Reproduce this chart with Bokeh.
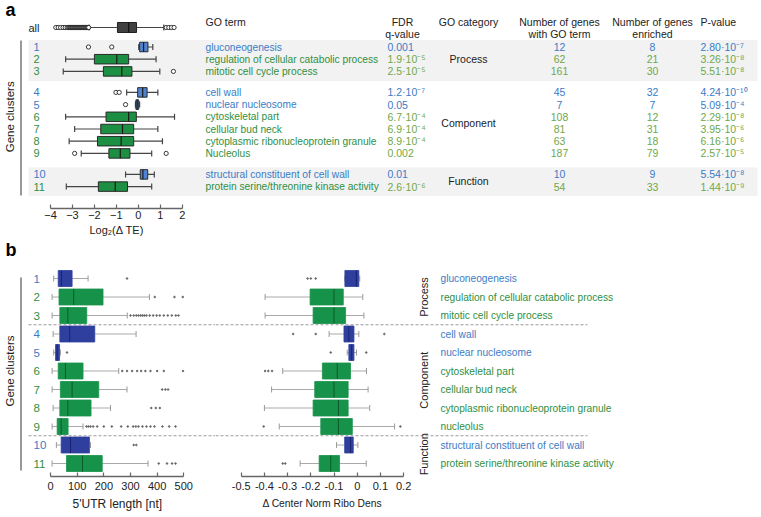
import math
from bokeh.plotting import figure
from bokeh.models import ColumnDataSource, Range1d, LinearAxis, FixedTicker, Title
from bokeh.layouts import column, row
from bokeh.core.properties import value
from bokeh.embed import file_html
from bokeh.resources import INLINE

FONT = "Liberation Sans"

# ---------------- data ----------------
clusters = [str(i) for i in range(1, 12)]
direction = ["up", "down", "down", "up", "up", "down", "down", "down", "down", "up", "down"]
categories = ["Process"] * 3 + ["Component"] * 6 + ["Function"] * 2
cat_order = ["Process", "Component", "Function"]
go_terms = ["gluconeogenesis", "regulation of cellular catabolic process", "mitotic cell cycle process",
            "cell wall", "nuclear nucleosome", "cytoskeletal part", "cellular bud neck",
            "cytoplasmic ribonucleoprotein granule", "Nucleolus",
            "structural constituent of cell wall", "protein serine/threonine kinase activity"]
go_terms_b = ["gluconeogenesis", "regulation of cellular catabolic process", "mitotic cell cycle process",
              "cell wall", "nuclear nucleosome", "cytoskeletal part", "cellular bud neck",
              "cytoplasmic ribonucleoprotein granule", "nucleolus",
              "structural constituent of cell wall", "protein serine/threonine kinase activity"]
fdr = ["0.001", "1.9·10⁻⁵", "2.5·10⁻⁵", "1.2·10⁻⁷", "0.05", "6.7·10⁻⁴", "6.9·10⁻⁴",
       "8.9·10⁻⁴", "0.002", "0.01", "2.6·10⁻⁶"]
n_go = [12, 62, 161, 45, 7, 108, 81, 63, 187, 10, 54]
n_enriched = [8, 21, 30, 32, 7, 12, 31, 18, 79, 9, 33]
pvalue = ["2.80·10⁻⁷", "3.26·10⁻⁸", "5.51·10⁻⁸", "4.24·10⁻¹⁰", "5.09·10⁻⁴", "2.29·10⁻⁸",
          "3.95·10⁻⁶", "6.16·10⁻⁶", "2.57·10⁻⁵", "5.54·10⁻⁸", "1.44·10⁻⁹"]
headers_top = ["GO term", "FDR", "GO category", "Number of genes", "Number of genes", "P-value"]
headers_bottom = ["", "q-value", "", "with GO term", "enriched", ""]

# panel a: log2(dTE) box statistics per cluster
te_low = [0.02, -3.31, -3.42, -0.53, -0.13, -3.31, -2.90, -3.15, -2.60, -0.58, -3.28]
te_q1 = [0.06, -2.00, -1.59, -0.03, -0.11, -1.47, -1.71, -1.86, -1.34, 0.09, -1.82]
te_med = [0.24, -0.98, -0.75, 0.20, -0.05, -0.44, -0.72, -0.78, -0.82, 0.21, -1.05]
te_q3 = [0.44, -0.44, -0.29, 0.40, 0.02, -0.09, -0.21, -0.21, -0.38, 0.43, -0.49]
te_high = [0.66, 0.81, 0.98, 0.89, 0.06, 1.65, 0.89, 1.10, 0.61, 0.73, 0.61]
te_out_cluster = [1, 1, 3, 4, 4, 5, 9, 9]
te_out_value = [-2.27, -1.21, 1.60, -1.02, -0.87, -0.58, -2.90, 1.27]
all_stats = [-2.24, -0.95, -0.44, -0.08, 1.16]
all_out = [-3.76, -3.65, -3.54, -3.43, -3.33, -3.24, -3.18, -3.14, -3.10, -3.07, -3.04, -3.01,
           -2.98, -2.95, -2.92, -2.89, -2.86, -2.83, -2.80, -2.77, -2.74, -2.71, -2.68, -2.65,
           -2.62, -2.59, -2.56, -2.53, -2.50, -2.47, -2.44, -2.41, -2.38, -2.35, -2.32, -2.29,
           -2.26, 1.27, 1.39, 1.51, 1.63]

# panel b: 5'UTR length box statistics
utr_low = [12, 6, 6, 10, 12, 6, 6, 10, 6, 22, 6]
utr_q1 = [29, 32, 35, 35, 19, 29, 37, 35, 25, 40, 60]
utr_med = [41, 87, 65, 72, 25, 56, 81, 65, 40, 75, 120]
utr_q3 = [81, 197, 136, 166, 34, 122, 181, 152, 66, 146, 194]
utr_high = [141, 371, 288, 321, 37, 256, 287, 225, 122, 150, 366]
utr_out_cluster = ([1] + [2] * 3 + [3] * 17 + [5] + [6] * 10 + [7] * 3 + [8] * 3 + [9] * 19 + [10] * 2 + [11] * 4)
utr_out_value = ([287] + [391, 465, 496] +
                 [300, 312, 322, 330, 338, 345, 352, 360, 372, 385, 398, 410, 425, 440, 455, 470, 480] +
                 [62] + [269, 287, 306, 325, 340, 356, 375, 400, 425, 497] + [419, 431, 441] +
                 [378, 395, 410] +
                 [135, 142, 150, 160, 175, 200, 230, 265, 290, 310, 320, 330, 345, 360, 375, 390, 420, 445, 469] +
                 [312, 322] + [406, 437, 456, 469])

# panel b: delta center normalised ribosome density
rb_low = [-0.053, -0.397, -0.397, -0.121, -0.043, -0.321, -0.369, -0.400, -0.336, -0.089, -0.246]
rb_q1 = [-0.053, -0.203, -0.190, -0.057, -0.036, -0.150, -0.183, -0.190, -0.157, -0.054, -0.164]
rb_med = [-0.004, -0.100, -0.100, -0.036, -0.024, -0.086, -0.100, -0.081, -0.081, -0.029, -0.114]
rb_q3 = [0.007, -0.060, -0.050, -0.014, -0.014, -0.029, -0.039, -0.039, -0.021, -0.017, -0.076]
rb_high = [0.011, 0.024, 0.029, 0.007, -0.003, 0.040, 0.047, 0.054, 0.161, 0.003, 0.039]
rb_out_cluster = [1, 1, 1, 4, 4, 4, 5, 5, 6, 6, 6, 9, 9, 11, 11]
rb_out_value = [-0.214, -0.200, -0.179, -0.276, -0.179, 0.117, -0.114, 0.039,
                -0.397, -0.383, -0.367, -0.403, 0.186, -0.321, -0.310]

te_ticks = [-4, -3, -2, -1, 0, 1, 2]
utr_ticks = [0, 100, 200, 300, 400, 500]
rb_ticks = [-0.5, -0.4, -0.3, -0.2, -0.1, 0.0, 0.1, 0.2]
rb_tick_labels = ["-0.5", "-0.4", "-0.3", "-0.2", "-0.1", "0", "0.1", "0.2"]
te_axis_label = "Log₂(Δ TE)"
utr_axis_label = "5'UTR length [nt]"
rb_axis_label = "Δ Center Norm Ribo Dens"

# ---------------- styling ----------------
BLUE_TXT = "#3a7cc6"
GREEN_TXT = "#2f8f3f"
GREEN_LIGHT = "#6fa84a"
A_BLUE = "#4f84d2"
A_GREEN = "#1d8f42"
B_BLUE = "#2f3f9e"
B_GREEN = "#17924a"

is_up = [d == "up" for d in direction]
txt_col = [BLUE_TXT if u else GREEN_TXT for u in is_up]
txt_col_light = [BLUE_TXT if u else GREEN_LIGHT for u in is_up]
grp = [cat_order.index(c) for c in categories]
idx = list(range(len(clusters)))

# row layout (window pixel coordinates)
ya = [46.5 + 12.2 * i + 8.8 * g for i, g in zip(idx, grp)]
yb = [278 + 18.5 * i for i in idx]


def bare(p):
    p.outline_line_color = None
    p.grid.grid_line_color = None
    p.background_fill_color = "white"
    p.border_fill_color = "white"
    p.min_border_left = 0
    p.min_border_right = 0
    p.min_border_top = 0


def txt(p, x, y, t, color="#222222", size="10px", align="left", style="normal", angle=0.0,
        baseline="middle", xr="px"):
    n = len(t)
    if len(x) == 1:
        x = x * n
    if len(y) == 1:
        y = y * n
    src = ColumnDataSource(dict(x=x, y=y, t=t, c=color if isinstance(color, list) else [color] * n))
    p.text(x="x", y="y", text="t", source=src, text_color="c", text_font=value(FONT),
           text_font_size=value(size), text_align=align, text_baseline=baseline,
           text_font_style=style, angle=angle, x_range_name=xr)


def axis_title(p, left_offset, t, size="11px", standoff=2):
    p.add_layout(Title(text=t, align="left", offset=left_offset, standoff=standoff,
                       text_font=FONT, text_font_size=size, text_font_style="normal",
                       text_color="#222222"), "below")


def style_axis(ax):
    ax.axis_line_color = "#666666"
    ax.axis_line_width = 1.5
    ax.major_tick_line_color = "#666666"
    ax.major_tick_line_width = 1.2
    ax.major_tick_in = 4
    ax.major_tick_out = 0
    ax.minor_tick_line_color = None
    ax.major_label_text_font = FONT
    ax.major_label_text_font_size = "11px"
    ax.major_label_text_color = "#222222"


# ================= panel a =================
W, HA, HB = 760, 240, 276
WIN_L, WIN_R = 0, W
A_TOP, A_BOTTOM = 0, 208
a_px0, a_px1 = 50.0, 181.7           # window x of -4 and 2
a_scale = (a_px1 - a_px0) / 6.0
a_x0 = -4 + (WIN_L - a_px0) / a_scale
a_x1 = -4 + (WIN_R - a_px0) / a_scale

pa = figure(width=W, height=HA, output_backend="svg", toolbar_location=None,
            x_range=Range1d(a_x0, a_x1), y_range=Range1d(A_BOTTOM, A_TOP),
            x_axis_location=None, y_axis_location=None)
bare(pa)
pa.min_border_bottom = HA - (A_BOTTOM - A_TOP)
pa.extra_x_ranges = {"px": Range1d(WIN_L, WIN_R)}

# grey bands for groups 1 and 3
band_src = ColumnDataSource(dict(
    top=[min(y for y, g in zip(ya, grp) if g == k) - 7 for k in (0, 2)],
    bottom=[max(y for y, g in zip(ya, grp) if g == k) + 9.5 for k in (0, 2)]))
pa.quad(left=28, right=757, top="top", bottom="bottom", source=band_src,
        fill_color="#f2f2f2", line_color=None, x_range_name="px")

box_a_fill = [A_BLUE if u else A_GREEN for u in is_up]
sa = ColumnDataSource(dict(y=ya, lo=te_low, q1=te_q1, md=te_med, q3=te_q3, hi=te_high,
                           ylo=[y - 3 for y in ya], yhi=[y + 3 for y in ya],
                           mlo=[y - 4.75 for y in ya], mhi=[y + 4.75 for y in ya], fill=box_a_fill))
pa.segment(x0="lo", y0="y", x1="q1", y1="y", source=sa, line_color="#444444", line_width=1.2)
pa.segment(x0="q3", y0="y", x1="hi", y1="y", source=sa, line_color="#444444", line_width=1.2)
pa.segment(x0="lo", y0="ylo", x1="lo", y1="yhi", source=sa, line_color="#444444", line_width=1.2)
pa.segment(x0="hi", y0="ylo", x1="hi", y1="yhi", source=sa, line_color="#444444", line_width=1.2)
pa.hbar(y="y", left="q1", right="q3", height=9.5, source=sa, fill_color="fill",
        line_color="#2a2a2a", line_width=1)
pa.segment(x0="md", y0="mlo", x1="md", y1="mhi", source=sa, line_color="#1a1a1a", line_width=1.2)

# "all" row
Y_ALL = 27
lo, q1, md, q3, hi = all_stats
pa.segment(x0=[lo, q3], y0=[Y_ALL, Y_ALL], x1=[q1, hi], y1=[Y_ALL, Y_ALL], line_color="#444444", line_width=1.2)
pa.segment(x0=[lo, hi], y0=[Y_ALL - 3] * 2, x1=[lo, hi], y1=[Y_ALL + 3] * 2, line_color="#444444", line_width=1.2)
pa.hbar(y=[Y_ALL], left=[q1], right=[q3], height=10, fill_color="#404040", line_color="#222222")
pa.segment(x0=[md], y0=[Y_ALL - 5], x1=[md], y1=[Y_ALL + 5], line_color="#111111", line_width=1.2)
pa.scatter(x=all_out, y=[Y_ALL] * len(all_out), marker="circle", size=4.2,
           fill_color="white", line_color="#222222", line_width=0.9)
pa.scatter(x=te_out_value, y=[ya[c - 1] for c in te_out_cluster], marker="circle", size=4.2,
           fill_color="white", line_color="#222222", line_width=0.9)

ax_a = LinearAxis(ticker=FixedTicker(ticks=te_ticks), bounds=(te_ticks[0], te_ticks[-1]))
style_axis(ax_a)
ax_a.major_label_standoff = 2
pa.add_layout(ax_a, "below")
axis_title(pa, 89, te_axis_label, "11px", 1)

# left decorations
txt(pa, [5], [9], ["a"], color="#000000", size="18px", style="bold")
txt(pa, [28], [Y_ALL], ["all"], color="#222222", size="11px")
txt(pa, [33], ya, clusters, color=txt_col, size="11px")
pa.segment(x0=[20.5], y0=[ya[0] - 6.5], x1=[20.5], y1=[ya[-1] + 9], line_color="#777777",
           line_width=1.5, x_range_name="px")
txt(pa, [9], [(ya[0] + ya[-1]) / 2], ["Gene clusters"], size="11.5px", align="center", angle=math.pi / 2)

# table
col_x = [205, 402, 468, 559, 652, 700]
col_align = ["left", "center", "center", "center", "center", "left"]
for x, a, t1, t2 in zip(col_x, col_align, headers_top, headers_bottom):
    txt(pa, [x], [21], [t1], size="10.5px", align=a)
    if t2:
        txt(pa, [x], [33], [t2], size="10.5px", align=a)
txt(pa, [205], ya, go_terms, color=txt_col, size="10.2px")
txt(pa, [387], ya, fdr, color=txt_col_light, size="10.5px")
txt(pa, [559], ya, [str(v) for v in n_go], color=txt_col_light, size="10.5px", align="center")
txt(pa, [652], ya, [str(v) for v in n_enriched], color=txt_col_light, size="10.5px", align="center")
txt(pa, [700], ya, pvalue, color=txt_col_light, size="10.5px")
cat_y = [sum(y for y, c in zip(ya, categories) if c == k) / categories.count(k) for k in cat_order]
txt(pa, [468], cat_y, cat_order, size="10.5px", align="center")

# ================= panel b =================
B_TOP, B_BOTTOM = HA, 476
SPLIT = 215
b1_px0, b1_px1 = 50.0, 183.3        # window x of 0 and 500
b1_scale = (b1_px1 - b1_px0) / 500.0
b2_px0, b2_px1 = 240.7, 403.1       # window x of -0.5 and 0.2
b2_scale = (b2_px1 - b2_px0) / 0.7

pb1 = figure(width=SPLIT - WIN_L, height=HB, output_backend="svg", toolbar_location=None,
             x_range=Range1d((WIN_L - b1_px0) / b1_scale, (SPLIT - b1_px0) / b1_scale),
             y_range=Range1d(B_BOTTOM, B_TOP), x_axis_location=None, y_axis_location=None)
pb2 = figure(width=WIN_R - SPLIT, height=HB, output_backend="svg", toolbar_location=None,
             x_range=Range1d(-0.5 + (SPLIT - b2_px0) / b2_scale, -0.5 + (WIN_R - b2_px0) / b2_scale),
             y_range=Range1d(B_BOTTOM, B_TOP), x_axis_location=None, y_axis_location=None)
for p, x0, x1 in ((pb1, WIN_L, SPLIT), (pb2, SPLIT, WIN_R)):
    bare(p)
    p.min_border_bottom = HB - (B_BOTTOM - B_TOP)
    p.extra_x_ranges = {"px": Range1d(x0, x1)}

# dashed separators between GO categories
sep_y = [(yb[i] + yb[i + 1]) / 2 for i in idx[:-1] if grp[i] != grp[i + 1]]
pb1.segment(x0=[28] * len(sep_y), y0=sep_y, x1=[SPLIT] * len(sep_y), y1=sep_y, line_color="#9a9a9a",
            line_width=1.2, line_dash="3 2", x_range_name="px")
pb2.segment(x0=[SPLIT] * len(sep_y), y0=sep_y, x1=[587] * len(sep_y), y1=sep_y, line_color="#9a9a9a",
            line_width=1.2, line_dash="3 2", x_range_name="px")

box_b_fill = [B_BLUE if u else B_GREEN for u in is_up]
med_b = ["#1b2470" if u else "#0b5a2a" for u in is_up]


def boxes_b(p, lo, q1, md, q3, hi, oc, ov):
    s = ColumnDataSource(dict(y=yb, lo=lo, q1=q1, md=md, q3=q3, hi=hi,
                              ylo=[y - 3 for y in yb], yhi=[y + 3 for y in yb],
                              mlo=[y - 8 for y in yb], mhi=[y + 8 for y in yb],
                              fill=box_b_fill, med=med_b))
    p.segment(x0="lo", y0="y", x1="q1", y1="y", source=s, line_color="#aaaaaa", line_width=1)
    p.segment(x0="q3", y0="y", x1="hi", y1="y", source=s, line_color="#aaaaaa", line_width=1)
    p.segment(x0="lo", y0="ylo", x1="lo", y1="yhi", source=s, line_color="#999999", line_width=1)
    p.segment(x0="hi", y0="ylo", x1="hi", y1="yhi", source=s, line_color="#999999", line_width=1)
    p.hbar(y="y", left="q1", right="q3", height=16, source=s, fill_color="fill", line_color="fill",
           line_width=0.8)
    p.segment(x0="md", y0="mlo", x1="md", y1="mhi", source=s, line_color="med", line_width=1)
    p.scatter(x=ov, y=[yb[c - 1] for c in oc], marker="circle", size=1.6, color="#666666")


boxes_b(pb1, utr_low, utr_q1, utr_med, utr_q3, utr_high, utr_out_cluster, utr_out_value)
boxes_b(pb2, rb_low, rb_q1, rb_med, rb_q3, rb_high, rb_out_cluster, rb_out_value)

ax_b1 = LinearAxis(ticker=FixedTicker(ticks=utr_ticks), bounds=(utr_ticks[0], utr_ticks[-1]))
style_axis(ax_b1)
ax_b1.major_label_standoff = 5
pb1.add_layout(ax_b1, "below")
axis_title(pb1, 72, utr_axis_label, "12px", 5)

ax_b2 = LinearAxis(ticker=FixedTicker(ticks=rb_ticks), bounds=(rb_ticks[0], rb_ticks[-1]))
style_axis(ax_b2)
ax_b2.major_label_standoff = 5
ax_b2.major_label_overrides = {t: l for t, l in zip(rb_ticks, rb_tick_labels)}
pb2.add_layout(ax_b2, "below")
axis_title(pb2, 47, rb_axis_label, "10.3px", 6)

txt(pb1, [5], [249], ["b"], color="#000000", size="18px", style="bold")
txt(pb1, [33], yb, clusters, color=txt_col, size="11.5px")
pb1.segment(x0=[20.5], y0=[yb[0] - 1], x1=[20.5], y1=[yb[-1] + 7], line_color="#777777",
            line_width=1.5, x_range_name="px")
txt(pb1, [9], [(yb[0] + yb[-1]) / 2], ["Gene clusters"], size="11.5px", align="center", angle=math.pi / 2)

txt(pb2, [440], yb, go_terms_b, color=txt_col, size="10.2px")
cat_yb = [sum(y for y, c in zip(yb, categories) if c == k) / categories.count(k) for k in cat_order]
txt(pb2, [423], cat_yb, cat_order, size="11px", align="center", angle=math.pi / 2)

layout = column(pa, row(pb1, pb2, spacing=0), spacing=0)
open("out.html", "w").write(file_html(layout, INLINE))
